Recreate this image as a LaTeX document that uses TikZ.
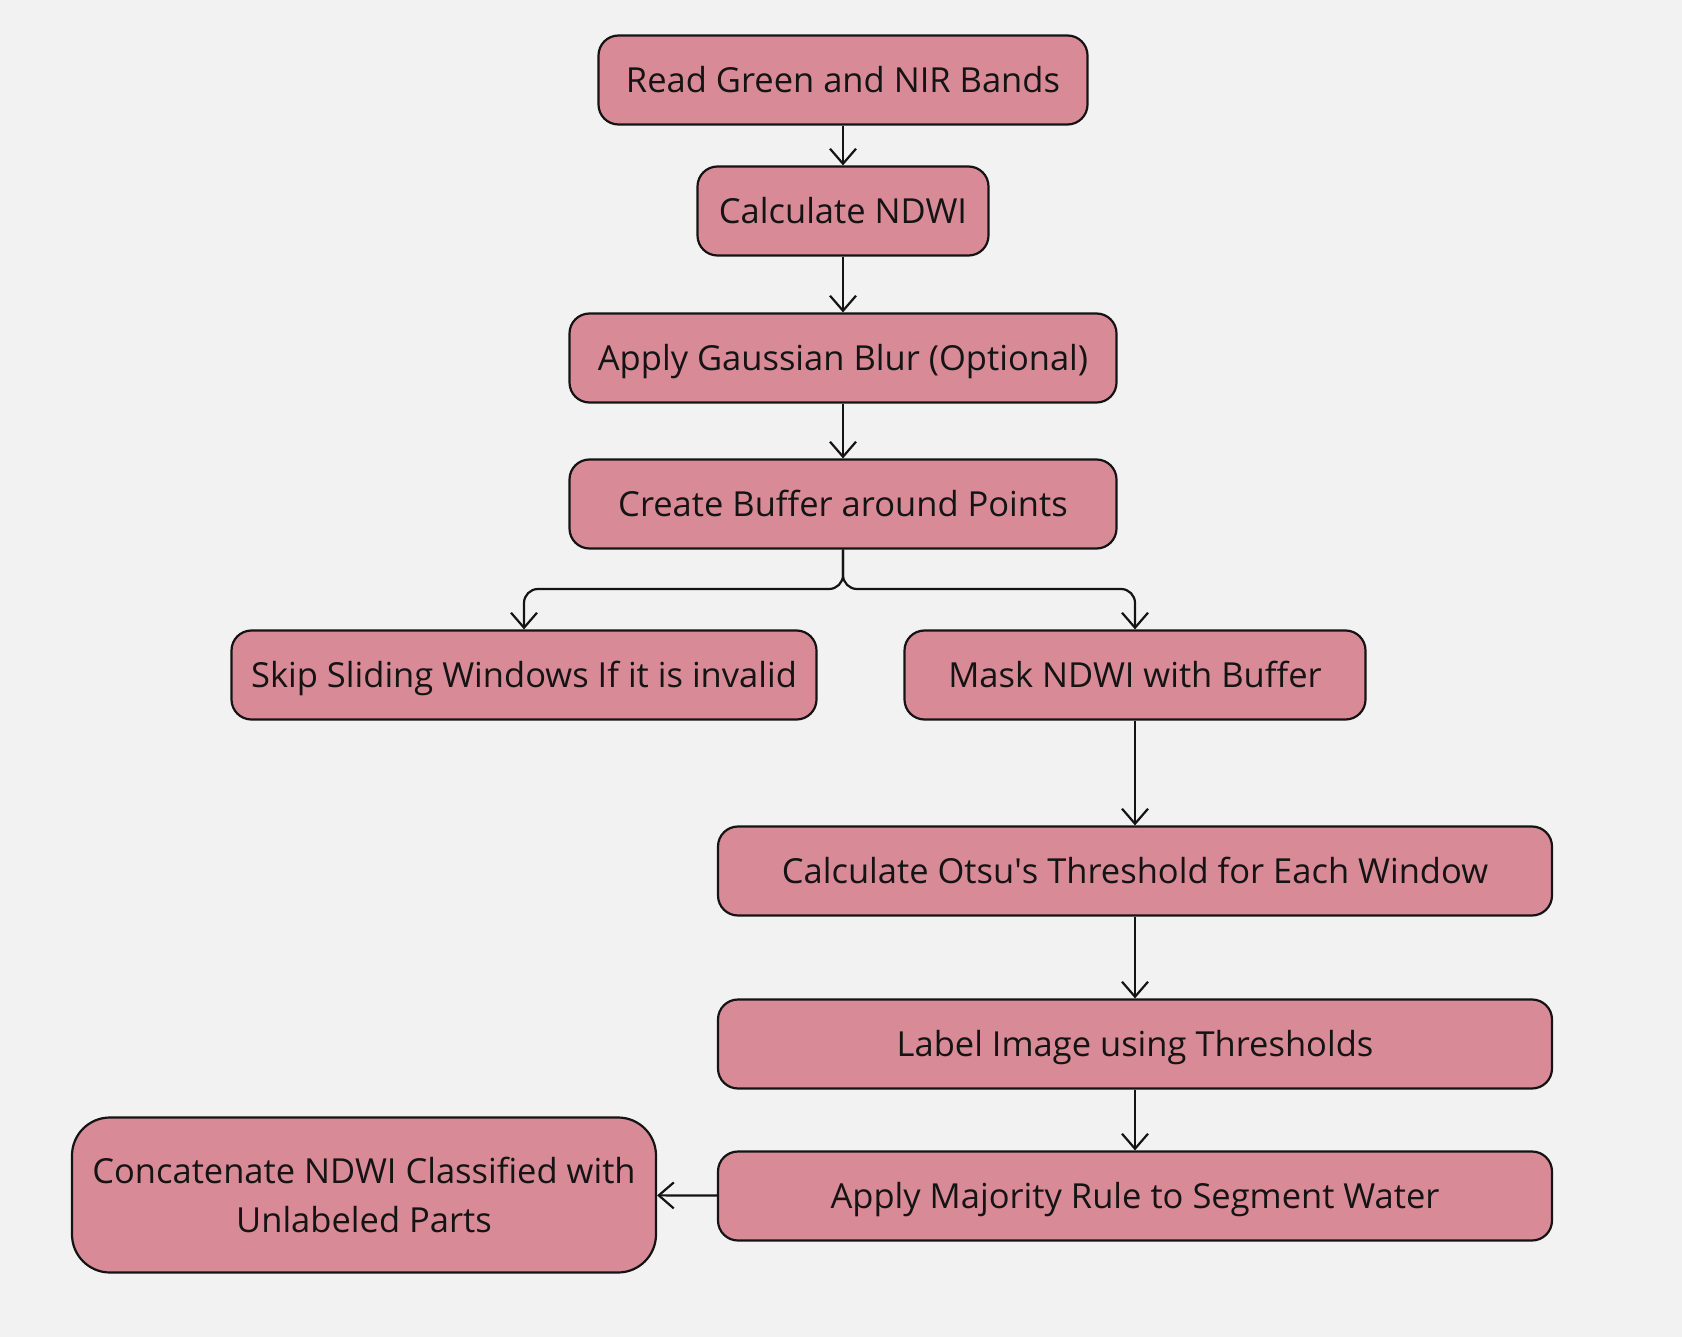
\documentclass[tikz,border=0pt]{standalone}
\usepackage{fontspec}
\setmainfont{Open Sans}
\usetikzlibrary{arrows.meta}
\definecolor{boxpink}{HTML}{D88A97}
\definecolor{bgray}{HTML}{F2F2F2}
\definecolor{inkdark}{HTML}{141414}
\tikzset{
  box/.style={draw=inkdark, fill=boxpink, line width=2.2pt, rounded corners=20pt,
    minimum height=89pt, inner sep=0pt, text=inkdark, text height=30pt, text depth=5pt,
    font=\fontsize{34.5}{49}\selectfont, align=center},
  flow/.style={draw=inkdark, line width=2.2pt, -{Straight Barb[length=15pt,width=26pt,line width=2.2pt]}}
}
\begin{document}
\begin{tikzpicture}[x=1pt,y=-1pt]
        % Canvas
        \fill[bgray] (0,0) rectangle (1682,1337);
        \useasboundingbox (0,0) rectangle (1682,1337);

        % Steps
        \node[box, minimum width=489pt] (read) at (843,80) {Read Green and NIR Bands};
        \node[box, minimum width=291pt] (ndwi) at (843,211) {Calculate NDWI};
        \node[box, minimum width=547pt] (blur) at (843,358) {Apply Gaussian Blur (Optional)};
        \node[box, minimum width=547pt] (buffer) at (843,504) {Create Buffer around Points};
        \node[box, minimum width=585pt] (skip) at (524,675) {Skip Sliding Windows If it is invalid};
        \node[box, minimum width=461pt] (mask) at (1135,675) {Mask NDWI with Buffer};
        \node[box, minimum width=834pt] (otsu) at (1135,871) {Calculate Otsu\textquotesingle s Threshold for Each Window};
        \node[box, minimum width=834pt] (label) at (1135,1044) {Label Image using Thresholds};
        \node[box, minimum width=834pt] (major) at (1135,1196) {Apply Majority Rule to Segment Water};
        \node[box, minimum width=584pt, minimum height=155pt, rounded corners=38pt,
          text height=, text depth=] (concat) at (364,1195)
          {Concatenate NDWI Classified with\\Unlabeled Parts};

        % Split point below the buffer step
        \coordinate (split) at (843,589);

        % Connectors
        \draw[flow] (read) -- (ndwi);
        \draw[flow] (ndwi) -- (blur);
        \draw[flow] (blur) -- (buffer);
        \draw[flow, rounded corners=14pt] (buffer.south) -- (split) -| (skip.north);
        \draw[flow, rounded corners=14pt] (buffer.south) -- (split) -| (mask.north);
        \draw[flow] (mask) -- (otsu);
        \draw[flow] (otsu) -- (label);
        \draw[flow] (label) -- (major);
        \draw[flow] (major) -- (concat);
      \end{tikzpicture}
\end{document}
